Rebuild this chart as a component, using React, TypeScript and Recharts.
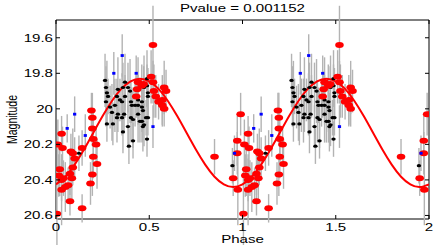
import React from 'react';
import { ComposedChart, Scatter, Line, XAxis, YAxis, ErrorBar, ReferenceArea } from 'recharts';

const W = 436;
const H = 245;
// plot box in px, set through the chart margins / axis sizes below
const PLOT = { left: 56, right: 429, top: 20, bottom: 219 };
const SX = 1.37; // the source picture is stretched sideways, text too
const FONT = '"Liberation Sans", Arial, Helvetica, sans-serif';

const X_TICKS = [0, 0.5, 1, 1.5, 2];
const Y_TICKS = [19.6, 19.8, 20, 20.2, 20.4, 20.6];
const TITLE = 'Pvalue = 0.001152';

// one period of the folded light curve: [phase, magnitude, error]
const RED_POINTS = [
    [0.005, 20.59, 0.25], [0.01, 20.2, 0.14], [0.015, 20.375, 0.12], [0.02, 20.34, 0.15],
    [0.03, 20.14, 0.1], [0.03, 20.4, 0.12], [0.03, 20.455, 0.2], [0.035, 20.22, 0.12],
    [0.04, 20.39, 0.1], [0.05, 20.44, 0.14], [0.065, 20.43, 0.1], [0.075, 20.365, 0.12],
    [0.075, 20.52, 0.08], [0.08, 20.24, 0.1], [0.085, 20.39, 0.12], [0.09, 20.25, 0.14],
    [0.09, 20.33, 0.1], [0.1, 20.28, 0.12], [0.14, 20.22, 0.1], [0.14, 20.56, 0.08],
    [0.185, 20.42, 0.12], [0.19, 20.01, 0.1], [0.195, 20.05, 0.14], [0.195, 20.11, 0.1],
    [0.195, 20.37, 0.12], [0.2, 20.17, 0.15], [0.2, 20.27, 0.12], [0.22, 20.31, 0.14],
    [0.215, 20.2, 0.1],
    [0.43, 19.93, 0.12], [0.435, 19.89, 0.1], [0.44, 19.85, 0.14], [0.46, 19.87, 0.12],
    [0.47, 19.86, 0.1], [0.51, 19.82, 0.15], [0.52, 19.64, 0.22], [0.52, 19.85, 0.12],
    [0.525, 19.9, 0.15], [0.535, 19.93, 0.12], [0.55, 19.96, 0.1], [0.57, 19.95, 0.14],
    [0.57, 19.98, 0.12], [0.58, 19.88, 0.15], [0.58, 20.0, 0.1], [0.59, 19.9, 0.12],
    [0.85, 20.27, 0.1], [0.95, 20.39, 0.1], [0.972, 20.18, 0.14], [0.972, 20.25, 0.12],
    [0.975, 20.455, 0.2], [0.99, 20.03, 0.12],
];

const BLUE_POINTS = [
    [0.06, 20.11, 0.08], [0.1, 20.03, 0.1], [0.157, 20.15, 0.12], [0.31, 19.8, 0.12],
    [0.355, 19.7, 0.12], [0.43, 19.8, 0.1], [0.52, 20.1, 0.12], [0.957, 20.25, 0.1],
];

const BLACK_POINTS = [
    [0.123, 20.25, 0.1], [0.263, 19.84, 0.15], [0.268, 19.88, 0.12], [0.273, 19.91, 0.18],
    [0.279, 19.93, 0.1], [0.268, 19.96, 0.14], [0.29, 19.99, 0.12], [0.3, 20.02, 0.16],
    [0.273, 20.085, 0.1], [0.305, 20.085, 0.12], [0.316, 19.98, 0.15], [0.327, 19.93, 0.1],
    [0.327, 20.05, 0.14], [0.332, 19.89, 0.18], [0.332, 20.03, 0.1], [0.343, 19.95, 0.12],
    [0.354, 19.96, 0.16], [0.354, 20.05, 0.1], [0.359, 19.88, 0.14], [0.359, 20.13, 0.12],
    [0.365, 20.03, 0.1], [0.37, 19.85, 0.16], [0.37, 19.93, 0.12], [0.386, 19.88, 0.14],
    [0.386, 20.1, 0.12], [0.391, 20.21, 0.1], [0.397, 19.9, 0.18], [0.402, 19.96, 0.12],
    [0.402, 20.05, 0.14], [0.407, 19.98, 0.1], [0.413, 20.06, 0.16], [0.413, 20.18, 0.1],
    [0.424, 19.98, 0.12], [0.44, 19.95, 0.14], [0.44, 19.98, 0.1], [0.44, 20.03, 0.16],
    [0.45, 20.07, 0.12], [0.461, 19.96, 0.1], [0.461, 19.99, 0.14], [0.461, 20.07, 0.12],
    [0.466, 20.01, 0.1], [0.466, 20.1, 0.14], [0.472, 19.88, 0.18], [0.472, 20.09, 0.12],
    [0.483, 20.05, 0.1], [0.488, 19.83, 0.16], [0.488, 19.87, 0.12], [0.488, 20.17, 0.1],
    [0.493, 19.91, 0.14], [0.493, 19.93, 0.12], [0.493, 20.05, 0.1], [0.946, 20.32, 0.1],
];

// fitted curve, every 0.05 in phase
const CURVE_PHASE = [
    0, 0.05, 0.1, 0.15, 0.2, 0.25, 0.3, 0.35, 0.4, 0.45, 0.5, 0.55, 0.6, 0.65, 0.7, 0.75, 0.8, 0.85, 0.9, 0.95,
    1, 1.05, 1.1, 1.15, 1.2, 1.25, 1.3, 1.35, 1.4, 1.45, 1.5, 1.55, 1.6, 1.65, 1.7, 1.75, 1.8, 1.85, 1.9, 1.95, 2,
];
const CURVE_MAG = [
    20.425, 20.382, 20.314, 20.229, 20.135, 20.041, 19.956, 19.888, 19.845, 19.83,
    19.845, 19.888, 19.956, 20.041, 20.135, 20.229, 20.314, 20.382, 20.425, 20.44,
    20.425, 20.382, 20.314, 20.229, 20.135, 20.041, 19.956, 19.888, 19.845, 19.83,
    19.845, 19.888, 19.956, 20.041, 20.135, 20.229, 20.314, 20.382, 20.425, 20.44, 20.425,
];

// the plot shows the period twice (phase 0-1 and 1-2)
const fold = (pts: number[][]) => {
    const one = pts.map(([x, y, err]) => ({ x, y, err }));
    return [...one, ...one.map(d => ({ ...d, x: d.x + 1 }))];
};

const red = fold(RED_POINTS);
const blue = fold(BLUE_POINTS);
const black = fold(BLACK_POINTS);
const all = [...black, ...red, ...blue];
const curve = CURVE_PHASE.map((x, i) => ({ x, y: CURVE_MAG[i] }));

function Txt({ x, y, anchor = 'middle', rotate = 0, size = 11, baseline, children }: any) {
    return (
        <g transform={`translate(${x},${y}) scale(${SX},1)${rotate ? ` rotate(${rotate})` : ''}`}>
            <text x={0} y={0} textAnchor={anchor} dominantBaseline={baseline} fontSize={size} fontFamily={FONT} fill="#000">
                {children}
            </text>
        </g>
    );
}

function XTick({ x, payload }: any) {
    return (
        <g>
            <line x1={x} x2={x} y1={PLOT.bottom} y2={PLOT.bottom - 4} stroke="#000" />
            <line x1={x} x2={x} y1={PLOT.top} y2={PLOT.top + 4} stroke="#000" />
            <Txt x={x} y={231}>{String(payload.value)}</Txt>
        </g>
    );
}

function YTick({ y, payload }: any) {
    return (
        <g>
            <line x1={PLOT.left} x2={PLOT.left + 4} y1={y} y2={y} stroke="#000" />
            <line x1={PLOT.right} x2={PLOT.right - 4} y1={y} y2={y} stroke="#000" />
            <Txt x={53} y={y + 4} anchor="end">{String(payload.value)}</Txt>
        </g>
    );
}

const empty = () => <g />;
const redDot = (p: any) => <ellipse cx={p.cx} cy={p.cy} rx={4.3} ry={3} fill="#ff0000" />;
const blackDot = (p: any) => <ellipse cx={p.cx} cy={p.cy} rx={2.2} ry={1.6} fill="#000" />;
const blueDot = (p: any) => <rect x={p.cx - 1.6} y={p.cy - 1.4} width={3.2} height={2.8} fill="#0000ff" />;

export default function App() {
    return (
        <div style={{ position: 'absolute', left: 0, top: 0, width: W, height: H, background: '#fff' }}>
            <ComposedChart width={W} height={H} margin={{ top: PLOT.top, right: W - PLOT.right, bottom: 0, left: 0 }}>
                <XAxis
                    type="number"
                    dataKey="x"
                    domain={[0, 2]}
                    ticks={X_TICKS}
                    allowDataOverflow
                    height={H - PLOT.bottom}
                    axisLine={false}
                    tickLine={false}
                    tick={<XTick />}
                />
                <YAxis
                    type="number"
                    dataKey="y"
                    domain={[19.5, 20.62]}
                    ticks={Y_TICKS}
                    reversed
                    allowDataOverflow
                    width={PLOT.left}
                    axisLine={false}
                    tickLine={false}
                    tick={<YTick />}
                />
                <Scatter data={all} dataKey="y" shape={empty} isAnimationActive={false}>
                    <ErrorBar dataKey="err" direction="y" width={0} stroke="#b3b3b3" strokeWidth={1.4} />
                </Scatter>
                <Line
                    data={curve}
                    dataKey="y"
                    type="natural"
                    stroke="#ff0000"
                    strokeWidth={2}
                    dot={false}
                    activeDot={false}
                    isAnimationActive={false}
                />
                <Scatter data={black} dataKey="y" shape={blackDot} isAnimationActive={false} />
                <Scatter data={red} dataKey="y" shape={redDot} isAnimationActive={false} />
                <Scatter data={blue} dataKey="y" shape={blueDot} isAnimationActive={false} />
                <ReferenceArea x1={0} x2={2} y1={19.5} y2={20.62} fill="none" fillOpacity={0} stroke="#000" strokeWidth={1} />
            </ComposedChart>
            <svg width={W} height={H} style={{ position: 'absolute', left: 0, top: 0, pointerEvents: 'none' }}>
                <Txt x={(PLOT.left + PLOT.right) / 2} y={12}>{TITLE}</Txt>
                <Txt x={(PLOT.left + PLOT.right) / 2} y={242.5}>Phase</Txt>
                <Txt x={12} y={(PLOT.top + PLOT.bottom) / 2} rotate={-90} size={10.5} baseline="central">Magnitude</Txt>
            </svg>
        </div>
    );
}
